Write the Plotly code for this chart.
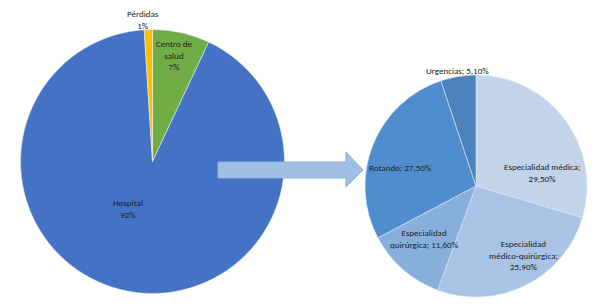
import math
import plotly.graph_objects as go

W, H = 604, 308

# Left pie data
left_labels = ["Centro de salud", "Hospital", "Pérdidas"]
left_values = [7, 92, 1]
left_text = ["Centro de<br>salud<br>7%", "Hospital<br>92%", "Pérdidas<br>1%"]
left_colors = ["#70ad47", "#4472c4", "#ffc000"]

# Right pie data
right_labels = ["Especialidad médica", "Especialidad médico-quirúrgica",
                "Especialidad quirúrgica", "Rotando", "Urgencias"]
right_values = [29.5, 25.9, 11.6, 27.5, 5.1]
right_text_names = ["Especialidad médica;<br>", "Especialidad<br>médico-quirúrgica;<br>",
                    "Especialidad<br>quirúrgica; ", "Rotando; ", "Urgencias; "]
right_colors = ["#c3d4ea", "#a8c3e5", "#88afdc", "#4f8dce", "#4b82bd"]

right_text = [n + f"{v:.2f}".replace(".", ",") + "%" for n, v in zip(right_text_names, right_values)]

# label placement style: (radial fraction, angular offset in degrees)
left_label_style = [(0.82, -1), (0.40, 17), (1.08, -2)]
right_label_style = [(0.61, 25), (0.75, -8), (0.66, 3), (0.70, -8), (1.05, 0)]

font = dict(family="Carlito, Lato, Liberation Sans, Arial", size=9, color="#222222")

# pie geometry in pixels (center x, center y, radius)
LEFT_GEOM = (152.5, 161.5, 132)
RIGHT_GEOM = (476, 186, 111)


def dom(geom):
    cx, cy, r = geom
    return dict(x=[(cx - r) / W, (cx + r) / W], y=[1 - (cy + r) / H, 1 - (cy - r) / H])


fig = go.Figure()
fig.add_trace(go.Pie(
    labels=left_labels, values=left_values, textinfo="none",
    sort=False, direction="clockwise", rotation=0,
    marker=dict(colors=left_colors, line=dict(color="#e8eef8", width=0.6)),
    domain=dom(LEFT_GEOM), showlegend=False, hoverinfo="label+percent",
))
fig.add_trace(go.Pie(
    labels=right_labels, values=right_values, textinfo="none",
    sort=False, direction="clockwise", rotation=0,
    marker=dict(colors=right_colors, line=dict(color="#dfe8f4", width=0.6)),
    domain=dom(RIGHT_GEOM), showlegend=False, hoverinfo="label+percent",
))


def add_labels(values, texts, styles, geom):
    cx, cy, r = geom
    total = sum(values)
    cum = 0
    for v, t, (f, dth) in zip(values, texts, styles):
        mid = (cum + v / 2) / total * 360 + dth
        cum += v
        a = math.radians(mid)
        x = cx + f * r * math.sin(a)
        y = cy - f * r * math.cos(a)
        fig.add_annotation(x=x / W, y=1 - y / H, xref="paper", yref="paper",
                           text=t, showarrow=False, font=font, align="center",
                           xanchor="center", yanchor="middle")


add_labels(left_values, left_text, left_label_style, LEFT_GEOM)
add_labels(right_values, right_text, right_label_style, RIGHT_GEOM)


# Arrow (decorative)
def P(x, y):
    return f"{x / W:.4f},{1 - y / H:.4f}"


path = ("M " + P(218, 162) + " L " + P(346, 162) + " L " + P(346, 152) + " L " + P(363, 170)
        + " L " + P(346, 187) + " L " + P(346, 178) + " L " + P(218, 178) + " Z")
fig.add_shape(type="path", xref="paper", yref="paper", path=path,
              fillcolor="#a0bfe5", line=dict(color="#8fb0dc", width=1))

fig.update_layout(width=W, height=H, margin=dict(l=0, r=0, t=0, b=0),
                  paper_bgcolor="white", plot_bgcolor="white", font=font)
fig.write_html("out.html", config={"displayModeBar": False},
               post_script="document.body.style.margin='0';document.body.style.overflow='hidden';")
